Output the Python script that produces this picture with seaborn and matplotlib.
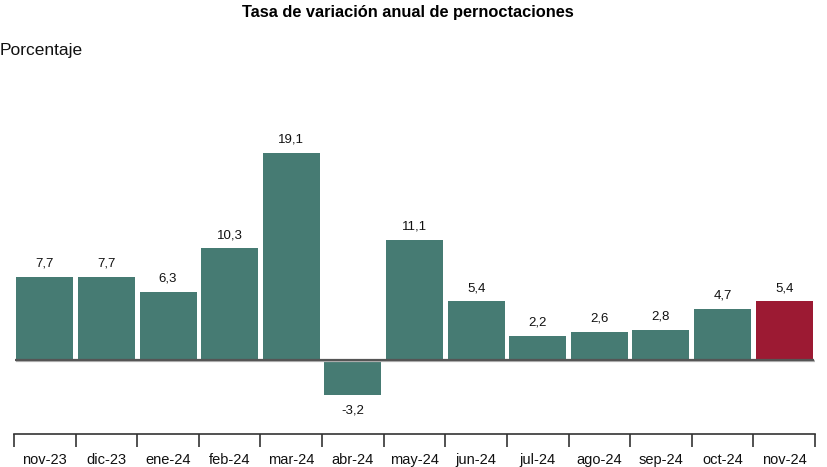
import matplotlib
matplotlib.use("Agg")
import matplotlib.pyplot as plt
import seaborn as sns
import pandas as pd

categories = ["nov-23", "dic-23", "ene-24", "feb-24", "mar-24", "abr-24", "may-24",
              "jun-24", "jul-24", "ago-24", "sep-24", "oct-24", "nov-24"]
values = [7.7, 7.7, 6.3, 10.3, 19.1, -3.2, 11.1, 5.4, 2.2, 2.6, 2.8, 4.7, 5.4]
value_labels = ["7,7", "7,7", "6,3", "10,3", "19,1", "-3,2", "11,1", "5,4", "2,2", "2,6", "2,8", "4,7", "5,4"]

TEAL = "#467b73"
RED = "#9c1a33"
colors = [TEAL] * (len(categories) - 1) + [RED]

sns.set_theme(style="white")
plt.rcParams['font.family'] = ['Liberation Sans', 'DejaVu Sans']

df = pd.DataFrame({"mes": categories, "valor": values})

fig = plt.figure(figsize=(8.27, 4.67), dpi=100)
W, H = 827, 467
left_px, right_px = 14, 815
top_px, bottom_px = 60, 434
ax = fig.add_axes([left_px / W, 1 - bottom_px / H, (right_px - left_px) / W, (bottom_px - top_px) / H])

sns.barplot(data=df, x="mes", y="valor", hue="mes", palette=colors, legend=False,
            width=0.925, saturation=1, linewidth=0, ax=ax, zorder=2)

px_per_unit = 10.84
zero_px = 360
ax.set_ylim(-(bottom_px - zero_px) / px_per_unit, (zero_px - top_px) / px_per_unit)
ax.set_xlim(-0.5, len(categories) - 0.5)

# zero line with shadow
n = len(categories)
ax.plot([-0.47, n - 0.49], [-1.4 / px_per_unit] * 2, color="#b5b5b5", lw=1.6, zorder=3,
        solid_capstyle="butt")
ax.plot([-0.49, n - 0.52], [0, 0], color="#555555", lw=1.6, zorder=4,
        solid_capstyle="butt")

for i, (v, lab) in enumerate(zip(values, value_labels)):
    if v >= 0:
        ax.annotate(lab, (i, v), xytext=(0, 9.6), textcoords="offset points",
                    ha="center", va="center", fontsize=9.5, color="#111111")
    else:
        ax.annotate(lab, (i, v), xytext=(0, -11.5), textcoords="offset points",
                    ha="center", va="center", fontsize=9.5, color="#111111")

for s in ["top", "right", "left"]:
    ax.spines[s].set_visible(False)
ax.spines["bottom"].set_color("#333333")
ax.spines["bottom"].set_linewidth(1.2)
ax.set_yticks([])
ax.set_ylabel("")
ax.set_xlabel("")

ax.set_xticks([i - 0.5 for i in range(n + 1)])
ax.set_xticklabels([])
ax.tick_params(axis="x", which="major", direction="out", length=9.5, width=1.2, color="#333333",
               bottom=True)
ax.set_xticks(range(n), minor=True)
ax.set_xticklabels(categories, minor=True, fontsize=10.5, color="#111111")
ax.tick_params(axis="x", which="minor", length=0, pad=13.5, bottom=True)

fig.text(408 / W, 1 - 12.5 / H, "Tasa de variación anual de pernoctaciones", ha="center", va="center",
         fontsize=11.8, fontweight="bold", color="#000000")
fig.text(0.0, 1 - 50 / H, "Porcentaje", ha="left", va="center", fontsize=12.5, color="#111111")

fig.savefig("out.png", dpi=100)
